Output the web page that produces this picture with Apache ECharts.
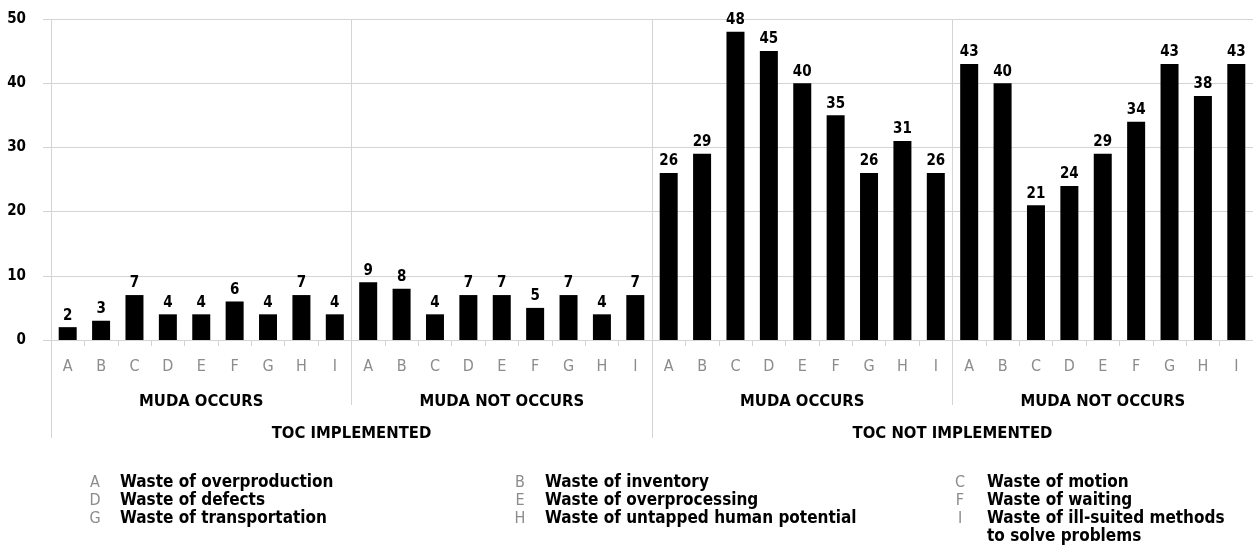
<!DOCTYPE html>
<html>
<head>
<meta charset="utf-8">
<script src="https://cdn.jsdelivr.net/npm/echarts@6/dist/echarts.min.js"></script>
<style>
  html, body { margin: 0; padding: 0; background: #ffffff; }
  #chart { width: 1253px; height: 560px; }
</style>
</head>
<body>
<div id="chart"></div>
<script>
// Waste types (key letters) repeated inside each group
const wasteLetters = ['A', 'B', 'C', 'D', 'E', 'F', 'G', 'H', 'I'];
// Middle level: MUDA status
const mudaGroups = ['MUDA OCCURS', 'MUDA NOT OCCURS', 'MUDA OCCURS', 'MUDA NOT OCCURS'];
// Top level: TOC status
const tocGroups = ['TOC IMPLEMENTED', 'TOC NOT IMPLEMENTED'];

// Counts per waste type, one array per group
const tocMudaOccurs = [2, 3, 7, 4, 4, 6, 4, 7, 4];
const tocMudaNotOccurs = [9, 8, 4, 7, 7, 5, 7, 4, 7];
const noTocMudaOccurs = [26, 29, 48, 45, 40, 35, 26, 31, 26];
const noTocMudaNotOccurs = [43, 40, 21, 24, 29, 34, 43, 38, 43];

// Value axis ticks
const yMin = 0, yMax = 50, yStep = 10;

// Key of waste letters, laid out in three columns
const keyLetters = ['A', 'B', 'C', 'D', 'E', 'F', 'G', 'H', 'I'];
const keyTexts = [
  'Waste of overproduction', 'Waste of inventory', 'Waste of motion',
  'Waste of defects', 'Waste of overprocessing', 'Waste of waiting',
  'Waste of transportation', 'Waste of untapped human potential',
  'Waste of ill-suited methods\nto solve problems'
];

const categories = [].concat(wasteLetters, wasteLetters, wasteLetters, wasteLetters);
const values = [].concat(tocMudaOccurs, tocMudaNotOccurs, noTocMudaOccurs, noTocMudaNotOccurs);

const FONT = '"DejaVu Sans Condensed", "DejaVu Sans", sans-serif';
const LINE = '#d4d4d4';

const colLetterX = [95, 520, 960];
const colTextX = [120, 545, 987];
const rowY = [483, 501, 519];
const ROW_H = 18;
const keyGraphics = [];
keyLetters.forEach(function (letter, i) {
  const col = i % 3, row = Math.floor(i / 3);
  keyGraphics.push({
    type: 'text', x: colLetterX[col], y: rowY[row],
    style: {
      text: letter, fill: '#8c8c8c', font: '16px ' + FONT,
      align: 'center', verticalAlign: 'middle', lineHeight: ROW_H
    }
  });
  keyGraphics.push({
    type: 'text', x: colTextX[col], y: rowY[row] - ROW_H / 2,
    style: {
      text: keyTexts[i], fill: '#000000', font: 'bold 17px ' + FONT,
      align: 'left', verticalAlign: 'top', lineHeight: ROW_H
    }
  });
});

const chart = echarts.init(document.getElementById('chart'), null, { renderer: 'canvas' });
chart.setOption({
  animation: false,
  grid: { left: 51, right: -2, top: 19, bottom: 220, containLabel: false },
  xAxis: [
    {
      type: 'category', data: categories, position: 'bottom',
      axisLine: { lineStyle: { color: LINE, width: 1 } },
      axisTick: { show: true, length: 6, lineStyle: { color: LINE } },
      axisLabel: { interval: 0, color: '#8c8c8c', fontSize: 16, fontFamily: FONT, margin: 19 },
      splitLine: { show: false }
    },
    {
      type: 'category', data: mudaGroups, position: 'bottom', offset: 65,
      axisLine: { show: false },
      axisTick: { show: true, inside: true, length: 65, lineStyle: { color: LINE } },
      axisLabel: { interval: 0, inside: true, margin: -5, color: '#000', fontSize: 16.5, fontWeight: 'bold', fontFamily: FONT },
      splitLine: { show: true, lineStyle: { color: LINE } }
    },
    {
      type: 'category', data: tocGroups, position: 'bottom', offset: 98,
      axisLine: { show: false },
      axisTick: { show: true, inside: true, length: 98, lineStyle: { color: LINE } },
      axisLabel: { interval: 0, inside: true, margin: -4, color: '#000', fontSize: 16.5, fontWeight: 'bold', fontFamily: FONT },
      splitLine: { show: false }
    }
  ],
  yAxis: {
    type: 'value', min: yMin, max: yMax, interval: yStep,
    axisLine: { show: false },
    axisTick: { show: true, length: 8, lineStyle: { color: LINE } },
    axisLabel: { color: '#000', fontSize: 15, fontWeight: 'bold', fontFamily: FONT, margin: 25 },
    splitLine: { lineStyle: { color: LINE } }
  },
  series: [{
    type: 'bar', xAxisIndex: 0, data: values, barWidth: 18,
    itemStyle: { color: '#000000' },
    label: {
      show: true, position: 'top', distance: 4,
      color: '#000', fontSize: 15, fontWeight: 'bold', fontFamily: FONT
    }
  }],
  graphic: keyGraphics
});
</script>
</body>
</html>
